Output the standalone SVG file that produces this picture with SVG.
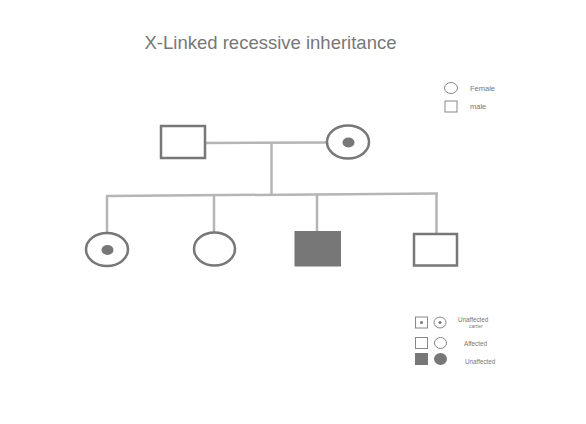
<svg xmlns="http://www.w3.org/2000/svg" width="586" height="424" viewBox="0 0 586 424">
<style>
.sh{fill:#fff;stroke:#777;stroke-width:2.5}
.sf{fill:#777;stroke:#777;stroke-width:1}
.dot{fill:#777}
.ln{stroke:#b5b5b5;stroke-width:2.5;fill:none}
.lg{fill:#fff;stroke:#888;stroke-width:1}
.t{font-family:"Liberation Sans",Arial,sans-serif;fill:#777}
</style>
<rect width="586" height="424" fill="#fff"/>
<text class="t" x="270.5" y="49" font-size="18.5" text-anchor="middle">X-Linked recessive inheritance</text>
<g id="connectors">
<line class="ln" x1="205" y1="143" x2="327" y2="142.5"/>
<line class="ln" x1="271.5" y1="143" x2="271.5" y2="195"/>
<line class="ln" x1="106" y1="196" x2="438" y2="193.5"/>
<line class="ln" x1="107" y1="196" x2="107" y2="233"/>
<line class="ln" x1="214" y1="195" x2="214" y2="232"/>
<line class="ln" x1="317" y1="194.5" x2="317" y2="231"/>
<line class="ln" x1="436.5" y1="194" x2="436.5" y2="233"/>
</g>
<g id="father"><rect class="sh" x="161" y="126" width="44" height="32"/></g>
<g id="mother"><ellipse class="sh" cx="348" cy="142" rx="21" ry="16.5"/><ellipse class="dot" cx="348.5" cy="142.5" rx="6" ry="5"/></g>
<g id="child1"><ellipse class="sh" cx="107" cy="249.5" rx="21" ry="16.5"/><ellipse class="dot" cx="107.5" cy="250" rx="6" ry="5"/></g>
<g id="child2"><ellipse class="sh" cx="214.5" cy="249" rx="20.5" ry="16.5"/></g>
<g id="child3"><rect class="sf" x="295" y="231.5" width="45.5" height="34.5"/></g>
<g id="child4"><rect class="sh" x="414" y="234" width="43" height="31.5"/></g>
<g id="legend-female"><ellipse class="lg" cx="451" cy="88" rx="6.5" ry="5.5"/><text class="t" x="470" y="91" font-size="7.5">Female</text></g>
<g id="legend-male"><rect class="lg" x="445" y="101" width="12" height="11"/><text class="t" x="470" y="108.5" font-size="7.5">male</text></g>
<g id="legend-carrier">
<rect class="lg" x="415.5" y="317" width="12" height="11"/><circle class="dot" cx="421.5" cy="322.5" r="1.5"/>
<ellipse class="lg" cx="440" cy="322.5" rx="6" ry="5.5"/><circle class="dot" cx="440" cy="322.5" r="1.5"/>
<text class="t" x="458" y="322" font-size="6.3">Unaffected</text>
<text class="t" x="469" y="328" font-size="4.8">carrier</text>
</g>
<g id="legend-affected">
<rect class="lg" x="415.5" y="337.5" width="12" height="11"/>
<ellipse class="lg" cx="440.5" cy="343" rx="6" ry="5.5"/>
<text class="t" x="464" y="345.5" font-size="6.3">Affected</text>
</g>
<g id="legend-unaffected">
<rect class="sf" x="415.5" y="353.5" width="12" height="11"/>
<ellipse class="dot" cx="440.5" cy="359" rx="6.5" ry="6"/>
<text class="t" x="465" y="364" font-size="6.3">Unaffected</text>
</g>
</svg>
